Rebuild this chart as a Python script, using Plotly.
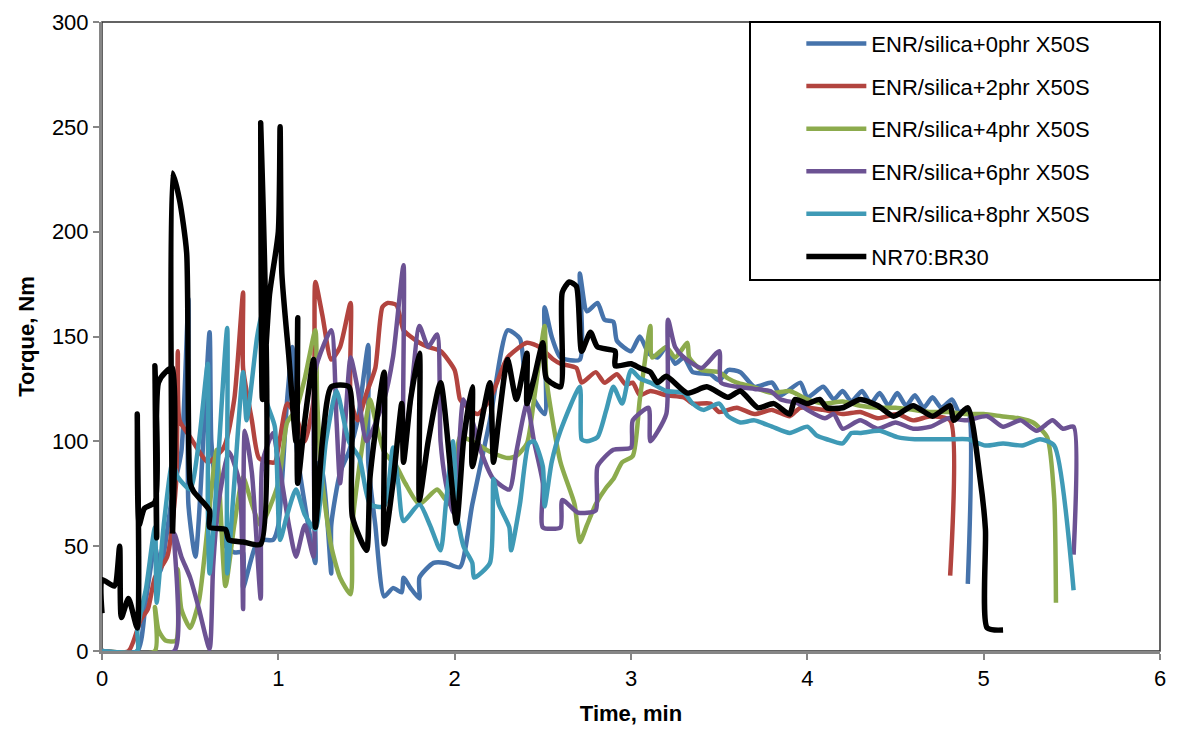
import plotly.graph_objects as go

# ---- data: (time [min], torque [Nm]) ----
series_names = ["ENR/silica+0phr X50S", "ENR/silica+2phr X50S", "ENR/silica+4phr X50S",
                "ENR/silica+6phr X50S", "ENR/silica+8phr X50S", "NR70:BR30"]
series_colors = ["#4673AB", "#B2443F", "#8CAB4D", "#6C5293", "#3F9AB6", "#000000"]

enr0 = [(0,0),(0.2,0),(0.25,25),(0.3,50),(0.33,38),(0.4,75),(0.45,95),(0.49,168),(0.49,70),(0.53,45),
        (0.61,152),(0.62,100),(0.65,75),(0.7,50),(0.75,47),(0.8,47),(0.8,30),(0.87,50),(0.91,53),(0.97,53),
        (1.0,60),(1.05,120),(1.08,145),(1.1,100),(1.15,70),(1.21,42),(1.21,90),(1.25,85),(1.3,37),(1.3,60),
        (1.35,85),(1.4,95),(1.45,110),(1.51,146),(1.51,90),(1.55,60),(1.6,26),(1.65,30),(1.7,28),(1.71,35),
        (1.75,30),(1.8,25),(1.8,35),(1.88,42),(1.95,42),(2.03,40),(2.1,70),(2.2,110),(2.3,153),(2.37,149),
        (2.4,130),(2.45,120),(2.51,113),(2.51,164),(2.55,150),(2.6,140),(2.71,139),(2.71,180),(2.75,162),
        (2.81,166),(2.85,158),(2.9,157),(2.92,148),(3.0,143),(3.05,150),(3.1,142),(3.15,140),(3.2,145),
        (3.25,137),(3.3,140),(3.35,133),(3.45,132),(3.5,129),(3.55,134),(3.62,133),(3.7,126),(3.8,128),
        (3.85,122),(3.96,128),(4.0,121),(4.09,126),(4.15,120),(4.2,124),(4.25,119),(4.31,124),(4.36,118),
        (4.41,123),(4.46,117),(4.51,123),(4.56,117),(4.61,122),(4.66,116),(4.71,121),(4.76,116),(4.82,120),
        (4.86,114),(4.91,115),(4.91,32)]

enr2 = [(0,0),(0.15,0),(0.22,15),(0.26,20),(0.3,35),(0.37,45),(0.42,80),(0.43,143),(0.44,110),(0.5,102),
        (0.56,94),(0.6,90),(0.69,97),(0.75,120),(0.8,171),(0.8,135),(0.85,110),(0.89,92),(0.95,90),(0.98,90),
        (1.05,118),(1.1,112),(1.15,100),(1.2,120),(1.21,176),(1.25,160),(1.3,139),(1.35,145),(1.41,166),
        (1.41,120),(1.45,110),(1.5,123),(1.55,135),(1.59,164),(1.62,166),(1.67,165),(1.71,153),(1.75,150),
        (1.8,147),(1.85,145),(1.92,143),(2.0,134),(2.03,120),(2.05,118),(2.13,113),(2.2,120),(2.24,128),
        (2.3,140),(2.41,147),(2.48,145),(2.56,139),(2.6,137),(2.69,135),(2.72,128),(2.8,133),(2.85,128),
        (2.92,132),(2.97,127),(3.01,128),(3.05,122),(3.11,124),(3.2,122),(3.3,121),(3.35,118),(3.45,118),
        (3.5,114),(3.6,116),(3.7,113),(3.8,115),(3.9,112),(3.96,116),(4.09,115),(4.2,113),(4.3,114),
        (4.4,111),(4.51,113),(4.6,110),(4.7,112),(4.81,110),(4.81,36)]

enr4 = [(0,0),(0.3,0),(0.3,21),(0.32,10),(0.36,5),(0.42,5),(0.43,39),(0.45,20),(0.5,11),(0.55,24),
        (0.6,60),(0.65,96),(0.7,31),(0.75,60),(0.8,83),(0.85,70),(0.9,60),(1.0,80),(1.05,109),(1.1,115),
        (1.15,130),(1.21,153),(1.22,120),(1.25,80),(1.3,50),(1.35,35),(1.41,27),(1.42,60),(1.48,100),
        (1.52,120),(1.55,110),(1.6,95),(1.67,88),(1.72,80),(1.8,70),(1.9,77),(1.95,72),(1.99,69),(2.03,102),
        (2.1,100),(2.2,95),(2.3,92),(2.35,93),(2.41,99),(2.45,120),(2.51,155),(2.52,130),(2.6,90),(2.68,70),
        (2.71,52),(2.75,60),(2.8,70),(2.86,78),(2.9,82),(2.95,90),(3.01,93),(3.05,120),(3.11,155),(3.12,140),
        (3.2,145),(3.25,140),(3.32,147),(3.33,140),(3.4,134),(3.5,133),(3.55,130),(3.6,128),(3.69,126),
        (3.8,123),(3.9,124),(4.0,120),(4.1,118),(4.2,119),(4.3,117),(4.4,116),(4.5,116),(4.6,115),(4.7,114),
        (4.8,114),(4.9,113),(5.0,113),(5.1,112),(5.2,111),(5.28,109),(5.36,102),(5.4,73),(5.41,23)]

enr6 = [(0,0),(0.41,0),(0.41,56),(0.45,45),(0.5,35),(0.55,20),(0.61,1),(0.63,40),(0.66,70),(0.72,95),
        (0.78,80),(0.8,20),(0.81,105),(0.85,85),(0.9,25),(0.91,90),(0.97,104),(1.0,90),(1.01,86),(1.06,60),
        (1.1,45),(1.15,60),(1.2,45),(1.21,134),(1.3,153),(1.33,110),(1.35,80),(1.38,110),(1.41,140),
        (1.45,125),(1.5,100),(1.6,120),(1.65,140),(1.71,184),(1.71,96),(1.75,120),(1.8,155),(1.85,145),
        (1.9,151),(1.92,100),(1.95,80),(1.99,66),(2.02,90),(2.05,120),(2.1,110),(2.15,95),(2.22,82),
        (2.31,77),(2.35,95),(2.41,118),(2.45,100),(2.5,80),(2.5,59),(2.6,59),(2.61,72),(2.7,66),(2.8,67),
        (2.81,88),(2.9,96),(3.0,97),(3.01,110),(3.1,116),(3.11,100),(3.2,113),(3.21,158),(3.25,145),
        (3.3,140),(3.4,135),(3.5,143),(3.51,128),(3.6,126),(3.7,125),(3.79,124),(3.85,120),(3.95,118),
        (4.0,115),(4.1,111),(4.15,113),(4.2,106),(4.3,110),(4.4,106),(4.5,109),(4.6,106),(4.7,107),
        (4.8,111),(4.9,110),(5.02,112),(5.11,107),(5.21,110),(5.3,105),(5.39,110),(5.45,106),(5.51,107),
        (5.51,46)]

enr8 = [(0,0),(0.2,0),(0.2,10),(0.25,30),(0.3,59),(0.31,23),(0.35,60),(0.4,90),(0.43,83),(0.5,77),
        (0.55,100),(0.6,137),(0.6,70),(0.61,37),(0.65,80),(0.71,154),(0.71,37),(0.75,80),(0.8,133),
        (0.82,110),(0.88,150),(0.91,162),(0.93,120),(0.98,107),(1.01,53),(1.05,65),(1.1,77),(1.15,65),
        (1.21,58),(1.27,100),(1.33,124),(1.4,100),(1.46,92),(1.52,70),(1.6,69),(1.65,97),(1.68,80),
        (1.71,62),(1.8,70),(1.86,60),(1.92,48),(1.95,70),(1.99,100),(2.0,90),(2.01,67),(2.05,50),(2.1,42),
        (2.11,35),(2.2,42),(2.22,82),(2.25,70),(2.31,59),(2.32,48),(2.37,70),(2.42,99),(2.45,100),(2.5,88),
        (2.51,69),(2.55,90),(2.6,105),(2.71,126),(2.72,101),(2.75,100),(2.81,102),(2.86,115),(2.9,126),
        (2.95,118),(3.0,134),(3.05,130),(3.11,128),(3.2,124),(3.3,123),(3.35,118),(3.41,115),(3.5,118),
        (3.55,112),(3.62,109),(3.7,110),(3.8,107),(3.9,104),(4.0,107),(4.05,103),(4.11,101),(4.2,99),
        (4.25,104),(4.3,104),(4.41,105),(4.51,102),(4.61,101),(4.71,101),(4.81,101),(4.91,101),(5.01,98),
        (5.11,99),(5.22,98),(5.32,101),(5.4,98),(5.51,29)]

nr_br = [(0,18),(0,34),(0.07,31),(0.1,50),(0.11,16),(0.15,25),(0.2,11),(0.2,113),(0.21,60),(0.24,68),
         (0.3,71),(0.3,136),(0.31,54),(0.32,128),(0.36,133),(0.4,135),(0.4,56),(0.4,228),(0.44,215),
         (0.48,190),(0.5,80),(0.52,76),(0.61,67),(0.61,59),(0.7,58),(0.72,53),(0.8,52),(0.9,51),(0.9,252),
         (0.91,120),(0.95,170),(1.0,200),(1.01,250),(1.02,180),(1.06,140),(1.1,100),(1.11,159),(1.11,80),
         (1.15,110),(1.2,139),(1.21,59),(1.25,100),(1.3,126),(1.4,126),(1.42,64),(1.5,48),(1.52,83),
         (1.6,133),(1.6,51),(1.65,80),(1.7,118),(1.71,90),(1.75,120),(1.8,142),(1.8,72),(1.85,100),
         (1.92,128),(2.01,61),(2.05,100),(2.1,126),(2.1,88),(2.2,128),(2.22,90),(2.25,110),(2.3,139),
         (2.35,120),(2.41,142),(2.41,118),(2.45,130),(2.5,147),(2.52,130),(2.6,126),(2.61,171),(2.65,176),
         (2.69,174),(2.72,143),(2.77,152),(2.81,145),(2.91,143),(2.91,136),(3.0,137),(3.05,135),(3.11,133),
         (3.15,128),(3.2,131),(3.32,123),(3.43,126),(3.55,121),(3.62,124),(3.72,116),(3.81,118),(3.9,113),
         (3.93,120),(4.0,118),(4.07,120),(4.11,116),(4.2,116),(4.3,120),(4.4,117),(4.49,112),(4.6,117),
         (4.71,112),(4.81,117),(4.83,110),(4.91,116),(4.98,82),(5.01,58),(5.02,11),(5.11,10)]

x_ticks = [0, 1, 2, 3, 4, 5, 6]
y_ticks = [0, 50, 100, 150, 200, 250, 300]

all_series = [enr0, enr2, enr4, enr6, enr8, nr_br]
widths = [4.5, 4.5, 4.5, 4.5, 4.5, 5.5]

fig = go.Figure()
for i, (name, col, pts, w) in enumerate(zip(series_names, series_colors, all_series, widths)):
    fig.add_trace(go.Scatter(
        x=[p[0] for p in pts], y=[p[1] for p in pts], mode="lines", name=name,
        line=dict(color=col, width=w, shape="spline", smoothing=0.6),
        legendgroup=f"g{i}",
    ))

FONT = "Liberation Sans"
fig.update_layout(
    width=1184, height=731,
    margin=dict(l=102, r=24, t=22, b=80, autoexpand=False),
    paper_bgcolor="white", plot_bgcolor="white",
    font=dict(family=FONT, size=22, color="black"),
    showlegend=True,
    legend=dict(x=0.661, y=0.999, xanchor="left", yanchor="top",
                bgcolor="rgba(0,0,0,0)", borderwidth=0,
                font=dict(family=FONT, size=22, color="black"),
                tracegroupgap=11, itemwidth=60),
    shapes=[
        dict(type="rect", xref="paper", yref="paper", x0=0, x1=1, y0=0, y1=1,
             line=dict(color="#303030", width=1.5), layer="below"),
        dict(type="rect", xref="paper", yref="paper", x0=(750-102)/1058, x1=1.0,
             y0=(651-280)/629, y1=1.0, fillcolor="white",
             line=dict(color="black", width=2), layer="above"),
    ],
)
fig.update_xaxes(range=[0, 6], tickvals=x_ticks, ticks="outside", ticklen=6, tickwidth=2,
                 tickcolor="#868686", showline=True, linecolor="#868686", linewidth=3,
                 showgrid=False, zeroline=False, automargin=False,
                 title=dict(text="<b>Time, min</b>", font=dict(family=FONT, size=22), standoff=16),
                 tickfont=dict(family=FONT, size=22))
fig.update_yaxes(range=[0, 300], tickvals=y_ticks, ticks="outside", ticklen=6, tickwidth=2,
                 tickcolor="#868686", showline=True, linecolor="#868686", linewidth=3,
                 showgrid=False, zeroline=False, automargin=False,
                 title=dict(text="<b>Torque, Nm</b>", font=dict(family=FONT, size=22), standoff=12),
                 tickfont=dict(family=FONT, size=22))

fig.write_html("out.html")
